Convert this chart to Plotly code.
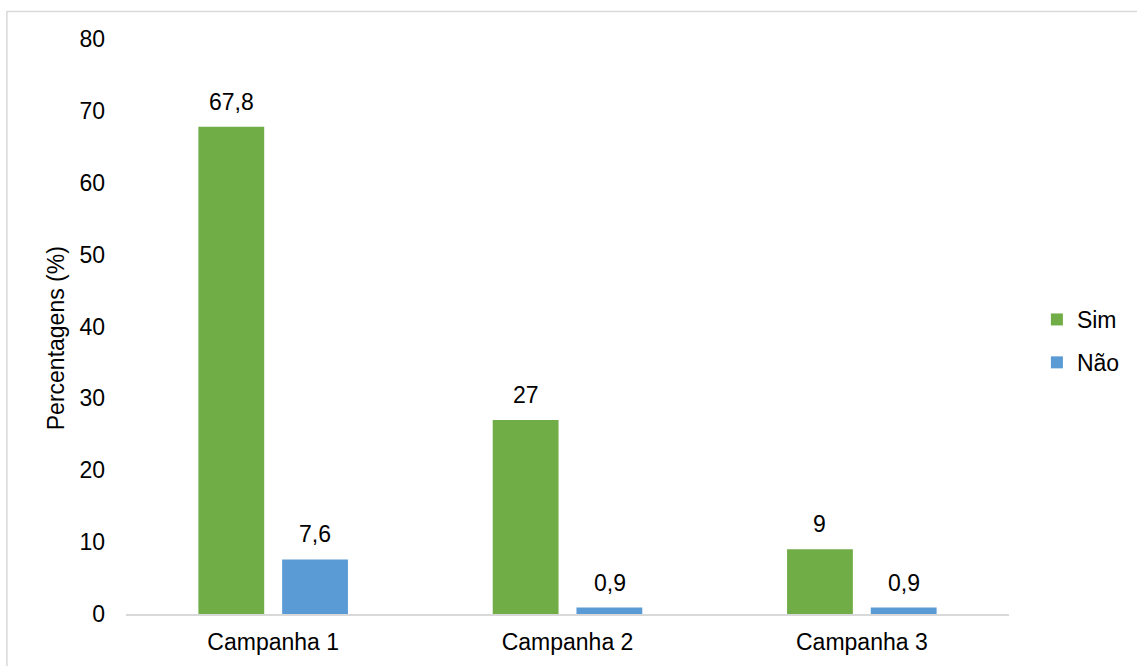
import plotly.graph_objects as go

# Chart data
categories = ["Campanha 1", "Campanha 2", "Campanha 3"]
sim_values = [67.8, 27, 9]
nao_values = [7.6, 0.9, 0.9]
y_ticks = [0, 10, 20, 30, 40, 50, 60, 70, 80]

W, H = 1137, 666
L, R, T, B = 126, 125, 39, 52
plot_w = W - L - R
plot_h = H - T - B

FONT = "Liberation Sans, Arial, sans-serif"
FS = 23
GREEN = "#70ad47"
BLUE = "#5b9bd5"


def fmt(v):
    s = f"{v:g}"
    return s.replace(".", ",")


def px_to_paper_x(px):
    return (px - L) / plot_w


def px_to_paper_y(py):
    return (H - B - py) / plot_h


fig = go.Figure()
fig.add_trace(go.Bar(name="Sim", x=categories, y=sim_values, marker_color=GREEN,
                     marker_line_width=0, legendgroup="sim"))
fig.add_trace(go.Bar(name="Não", x=categories, y=nao_values, marker_color=BLUE,
                     marker_line_width=0, legendgroup="nao"))

# Value labels above each bar
annotations = []
for series, shift in ((sim_values, -42), (nao_values, 42)):
    for cat, v in zip(categories, series):
        annotations.append(dict(
            x=cat, y=v, xref="x", yref="y", text=fmt(v), showarrow=False,
            xshift=shift, yshift=10, yanchor="bottom",
            font=dict(family=FONT, size=FS, color="#000000")))

# Y axis title
annotations.append(dict(
    x=px_to_paper_x(56), y=px_to_paper_y(338), xref="paper", yref="paper",
    text="Percentagens (%)", textangle=-90, showarrow=False,
    xanchor="center", yanchor="middle",
    font=dict(family=FONT, size=FS, color="#000000")))

fig.update_layout(
    width=W, height=H,
    margin=dict(l=L, r=R, t=T, b=B),
    paper_bgcolor="white", plot_bgcolor="white",
    barmode="group", bargap=0.431, bargroupgap=0.214,
    font=dict(family=FONT, size=FS, color="#000000"),
    showlegend=True,
    legend=dict(x=px_to_paper_x(1040), y=px_to_paper_y(341), xanchor="left",
                yanchor="middle", tracegroupgap=10, itemsizing="constant",
                font=dict(family=FONT, size=FS, color="#000000"),
                bgcolor="rgba(0,0,0,0)"),
    annotations=annotations,
    shapes=[dict(type="rect", xref="paper", yref="paper",
                 x0=px_to_paper_x(6.5), x1=px_to_paper_x(W + 5),
                 y0=px_to_paper_y(H + 5), y1=px_to_paper_y(11.5),
                 line=dict(color="#d9d9d9", width=1.5), layer="below")],
)

fig.update_xaxes(showgrid=False, showline=True, linecolor="#d9d9d9", linewidth=1.5,
                 ticks="", tickfont=dict(family=FONT, size=FS, color="#000000"),
                 ticklabelstandoff=7)
fig.update_yaxes(range=[0, 80], tickvals=y_ticks, showgrid=False, zeroline=False,
                 showline=False, ticks="",
                 tickfont=dict(family=FONT, size=FS, color="#000000"),
                 ticklabelstandoff=20)

fig.write_html("out.html")
